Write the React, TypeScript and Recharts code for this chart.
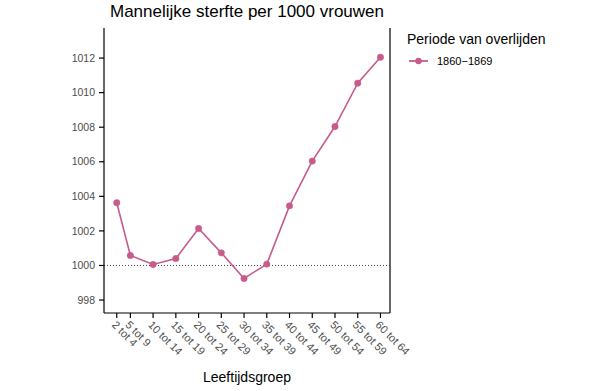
import { LineChart, Line, XAxis, YAxis, ReferenceLine } from "recharts";

const ageGroups = [
  "2 tot 4", "5 tot 9", "10 tot 14", "15 tot 19", "20 tot 24", "25 tot 29", "30 tot 34",
  "35 tot 39", "40 tot 44", "45 tot 49", "50 tot 54", "55 tot 59", "60 tot 64",
];
const ageStart = [2, 5, 10, 15, 20, 25, 30, 35, 40, 45, 50, 55, 60];
const deaths1860 = [
  1003.63, 1000.58, 1000.06, 1000.4, 1002.14, 1000.73, 999.25, 1000.08, 1003.45, 1006.04,
  1008.04, 1010.55, 1012.05,
];
const yTicks = [998, 1000, 1002, 1004, 1006, 1008, 1010, 1012];

const X_MIN = -0.8;
const X_MAX = 62.1;
const LINE_COLOR = "#c65b8c";
const FONT = "'Liberation Sans', Arial, sans-serif";

const data = ageStart.map((x, i) => ({ x, label: ageGroups[i], value: deaths1860[i] }));

function AgeTick(props: any) {
  const { x, y, payload } = props;
  const idx = ageStart.indexOf(payload.value);
  return (
    <text
      x={x}
      y={y}
      dy="0.72em"
      transform={`rotate(45, ${x}, ${y})`}
      textAnchor="start"
      fontSize={11}
      fontFamily={FONT}
      fill="#4d4d4d"
    >
      {idx >= 0 ? ageGroups[idx] : ""}
    </text>
  );
}

function LegendBox() {
  return (
    <div style={{ fontFamily: FONT, color: "#000" }}>
      <div style={{ fontSize: 14, lineHeight: "16px" }}>Periode van overlijden</div>
      <div style={{ display: "flex", alignItems: "center", marginTop: 8 }}>
        <svg width={22} height={10} style={{ marginLeft: 1 }}>
          <line x1={1} y1={5} x2={20} y2={5} stroke={LINE_COLOR} strokeWidth={1.8} />
          <circle cx={10.5} cy={5} r={3.2} fill={LINE_COLOR} />
        </svg>
        <span style={{ fontSize: 11, marginLeft: 7 }}>1860−1869</span>
      </div>
    </div>
  );
}

export default function App() {
  return (
    <div style={{ position: "fixed", left: 0, top: 0, width: 602, height: 391, background: "#fff" }}>
      <LineChart
        width={602}
        height={391}
        data={data}
        margin={{ top: 28, right: 212, bottom: 0, left: 0 }}
        style={{ position: "absolute", left: 0, top: 0 }}
      >
        <XAxis
          dataKey="x"
          type="number"
          domain={[X_MIN, X_MAX]}
          ticks={ageStart}
          allowDataOverflow
          height={78}
          tick={<AgeTick />}
          tickSize={5}
          tickMargin={2}
          stroke="#000"
          axisLine={{ stroke: "#000", strokeWidth: 1.2 }}
          tickLine={{ stroke: "#000", strokeWidth: 1.2 }}
          interval={0}
        />
        <YAxis
          type="number"
          domain={[997.25, 1013.74]}
          ticks={yTicks}
          allowDataOverflow
          width={104}
          tickSize={5}
          tickMargin={4}
          axisLine={{ stroke: "#000", strokeWidth: 1.2 }}
          tickLine={{ stroke: "#000", strokeWidth: 1.2 }}
          tick={{ fill: "#4d4d4d", fontSize: 10.5, fontFamily: FONT }}
          interval={0}
        />
        <ReferenceLine x={X_MAX} stroke="#000" strokeWidth={1.2} />
        <ReferenceLine y={1000} stroke="#444" strokeWidth={1} strokeDasharray="1 2" />
        <Line
          dataKey="value"
          stroke={LINE_COLOR}
          strokeWidth={1.6}
          dot={{ r: 3.2, fill: LINE_COLOR, stroke: LINE_COLOR, strokeWidth: 0.5 }}
          activeDot={false}
          isAnimationActive={false}
        />
      </LineChart>
      <div
        style={{
          position: "absolute",
          left: 0,
          width: 494,
          top: 2,
          textAlign: "center",
          fontFamily: FONT,
          fontSize: 17,
          color: "#000",
        }}
      >
        Mannelijke sterfte per 1000 vrouwen
      </div>
      <div
        style={{
          position: "absolute",
          left: 0,
          width: 494,
          top: 369,
          textAlign: "center",
          fontFamily: FONT,
          fontSize: 14,
          color: "#000",
        }}
      >
        Leeftijdsgroep
      </div>
      <div style={{ position: "absolute", left: 407, top: 31, width: 190 }}>
        <LegendBox />
      </div>
    </div>
  );
}
